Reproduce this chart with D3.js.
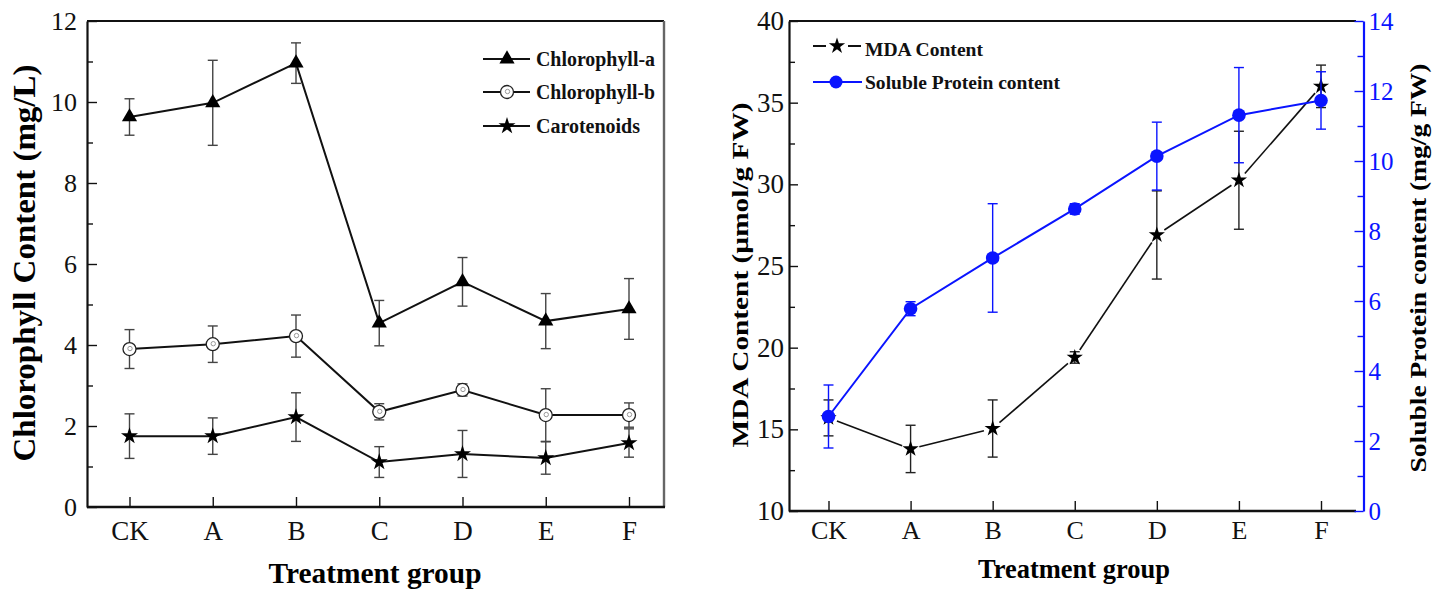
<!DOCTYPE html>
<html>
<head>
<meta charset="utf-8">
<script src="https://cdn.jsdelivr.net/npm/d3@7"></script>
<style>
  body { margin: 0; background: #fff; }
</style>
</head>
<body>
<svg id="chart" width="1442" height="594"></svg>
<script>
// data
const groups = ["CK", "A", "B", "C", "D", "E", "F"];

const chlA     = [9.63, 9.98, 10.96, 4.54, 5.56, 4.59, 4.89];
const chlAErr  = [0.45, 1.05, 0.50, 0.56, 0.60, 0.68, 0.75];
const chlB     = [3.90, 4.02, 4.22, 2.35, 2.89, 2.27, 2.27];
const chlBErr  = [0.48, 0.45, 0.52, 0.20, 0.15, 0.65, 0.30];
const carot    = [1.75, 1.75, 2.22, 1.11, 1.31, 1.21, 1.58];
const carotErr = [0.55, 0.45, 0.60, 0.38, 0.58, 0.40, 0.35];

const mda        = [15.7, 13.8, 15.05, 19.4, 26.9, 30.25, 36.0];
const mdaErr     = [1.1, 1.45, 1.75, 0.35, 2.7, 3.0, 1.3];
const protein    = [2.7, 5.78, 7.23, 8.63, 10.14, 11.31, 11.73];
const proteinErr = [0.9, 0.2, 1.55, 0.15, 0.97, 1.36, 0.82];

const leftTicks  = [0, 2, 4, 6, 8, 10, 12];
const leftMinor  = [1, 3, 5, 7, 9, 11];
const mdaTicks   = [10, 15, 20, 25, 30, 35, 40];
const mdaMinor   = [12.5, 17.5, 22.5, 27.5, 32.5, 37.5];
const protTicks  = [0, 2, 4, 6, 8, 10, 12, 14];
const protMinor  = [1, 3, 5, 7, 9, 11, 13];

const serif = "'Liberation Serif', 'Times New Roman', serif";
const BLUE = "#0a14ff";

const svg = d3.select("#chart");
svg.append("rect").attr("width", 1442).attr("height", 594).attr("fill", "#fff");

// ---------- helpers ----------
function styleAxis(g, color, size) {
  g.selectAll("path.domain").attr("stroke", color).attr("stroke-width", 2.2);
  g.selectAll(".tick line").attr("stroke", color).attr("stroke-width", 1.4);
  g.selectAll(".tick text").attr("fill", color)
    .style("font-family", serif).style("font-size", size + "px");
}

function errorBars(g, vals, errs, x, y, color, cap) {
  const eb = g.append("g");
  vals.forEach((v, i) => {
    const cx = x(i);
    eb.append("line").attr("x1", cx).attr("x2", cx)
      .attr("y1", y(v - errs[i])).attr("y2", y(v + errs[i]))
      .attr("stroke", color).attr("stroke-width", 1.4);
    [v - errs[i], v + errs[i]].forEach(e => {
      eb.append("line").attr("x1", cx - cap).attr("x2", cx + cap)
        .attr("y1", y(e)).attr("y2", y(e))
        .attr("stroke", color).attr("stroke-width", 1.4);
    });
  });
}

function hollowCircle(g, cx, cy) {
  g.append("circle").attr("cx", cx).attr("cy", cy).attr("r", 6.5)
    .attr("fill", "#fff").attr("stroke", "#222").attr("stroke-width", 1.3);
  g.append("circle").attr("cx", cx + 0.5).attr("cy", cy - 0.5).attr("r", 2.2)
    .attr("fill", "none").attr("stroke", "#999").attr("stroke-width", 1);
}

const triPath   = d3.symbol().type(d3.symbolTriangle).size(100)();
const starPath  = d3.symbol().type(d3.symbolStar).size(90)();
const starPath2 = d3.symbol().type(d3.symbolStar).size(82)();

// ================= LEFT CHART =================
const L = { x0: 87, x1: 664, y0: 21, y1: 507 };
const xL = d3.scaleLinear().domain([0, 6]).range([129.5, 629]);
const yL = d3.scaleLinear().domain([0, 12]).range([L.y1, L.y0]);

const left = svg.append("g");

// frame
left.append("line").attr("x1", L.x0).attr("x2", L.x1).attr("y1", L.y0).attr("y2", L.y0)
  .attr("stroke", "#111").attr("stroke-width", 2);
left.append("line").attr("x1", L.x1).attr("x2", L.x1).attr("y1", L.y0).attr("y2", L.y1)
  .attr("stroke", "#666").attr("stroke-width", 2.4);
left.append("line").attr("x1", L.x0).attr("x2", L.x1 + 1).attr("y1", L.y1).attr("y2", L.y1)
  .attr("stroke", "#111").attr("stroke-width", 2.4);

left.append("g").attr("transform", `translate(${L.x0},0)`)
  .call(d3.axisLeft(yL).tickValues(leftTicks).tickSize(-10).tickSizeOuter(0).tickPadding(10))
  .call(g => styleAxis(g, "#111", 26));
left.append("g").attr("transform", `translate(${L.x0},0)`)
  .call(d3.axisLeft(yL).tickValues(leftMinor).tickSize(-6).tickFormat(""))
  .call(g => g.select(".domain").remove())
  .call(g => styleAxis(g, "#111", 26));

left.append("g").attr("transform", `translate(0,${L.y1})`)
  .call(d3.axisBottom(xL).tickValues(d3.range(7)).tickFormat(i => groups[i])
    .tickSize(-10).tickSizeOuter(0).tickPadding(14))
  .call(g => g.select(".domain").remove())
  .call(g => styleAxis(g, "#111", 27));

// error bars
errorBars(left, chlA, chlAErr, xL, yL, "#444", 5);
errorBars(left, chlB, chlBErr, xL, yL, "#444", 5);
errorBars(left, carot, carotErr, xL, yL, "#444", 5);

const lineL = vals => d3.line().x((d, i) => xL(i)).y(d => yL(d))(vals);
[chlA, chlB, carot].forEach(s => {
  left.append("path").attr("d", lineL(s)).attr("fill", "none")
    .attr("stroke", "#111").attr("stroke-width", 2);
});

left.selectAll(".tri").data(chlA).enter().append("path")
  .attr("d", triPath).attr("fill", "#000")
  .attr("transform", (d, i) => `translate(${xL(i)},${yL(d)})`);
chlB.forEach((d, i) => hollowCircle(left, xL(i), yL(d)));
left.selectAll(".star").data(carot).enter().append("path")
  .attr("d", starPath).attr("fill", "#000")
  .attr("transform", (d, i) => `translate(${xL(i)},${yL(d)})`);

// legend
const legL = left.append("g");
const legRows = [
  { name: "Chlorophyll-a", y: 59, len: 119, kind: "tri" },
  { name: "Chlorophyll-b", y: 92, len: 119, kind: "circ" },
  { name: "Carotenoids",   y: 126, len: 104, kind: "star" }
];
legRows.forEach(r => {
  legL.append("line").attr("x1", 483).attr("x2", 530).attr("y1", r.y).attr("y2", r.y)
    .attr("stroke", "#111").attr("stroke-width", 2);
  if (r.kind === "tri") legL.append("path").attr("d", triPath).attr("transform", `translate(507,${r.y})`);
  if (r.kind === "circ") hollowCircle(legL, 507, r.y);
  if (r.kind === "star") legL.append("path").attr("d", starPath).attr("transform", `translate(507,${r.y})`);
  legL.append("text").attr("x", 536).attr("y", r.y + 6.5)
    .attr("textLength", r.len).attr("lengthAdjust", "spacingAndGlyphs")
    .style("font-family", serif).style("font-weight", "bold").style("font-size", "20px")
    .attr("fill", "#111").text(r.name);
});

// titles
left.append("text").attr("x", 375).attr("y", 583).attr("text-anchor", "middle")
  .attr("textLength", 213).attr("lengthAdjust", "spacingAndGlyphs")
  .style("font-family", serif).style("font-weight", "bold").style("font-size", "30px")
  .text("Treatment group");
left.append("text").attr("transform", "translate(35,263) rotate(-90)").attr("text-anchor", "middle")
  .attr("textLength", 397).attr("lengthAdjust", "spacingAndGlyphs")
  .style("font-family", serif).style("font-weight", "bold").style("font-size", "31px")
  .text("Chlorophyll Content (mg/L)");

// ================= RIGHT CHART =================
const R = { x0: 789, x1: 1356, y0: 21, y1: 511, xb: 1363.5 };
const xR = d3.scaleLinear().domain([0, 6]).range([828.5, 1321]);
const yR = d3.scaleLinear().domain([10, 40]).range([R.y1, R.y0]);
const yP = d3.scaleLinear().domain([0, 14]).range([R.y1, R.y0]);

const right = svg.append("g");

right.append("line").attr("x1", R.x0).attr("x2", R.x1).attr("y1", R.y0).attr("y2", R.y0)
  .attr("stroke", "#111").attr("stroke-width", 2);
right.append("line").attr("x1", R.x0).attr("x2", R.x1).attr("y1", R.y1).attr("y2", R.y1)
  .attr("stroke", "#111").attr("stroke-width", 2.4);

right.append("g").attr("transform", `translate(${R.x0},0)`)
  .call(d3.axisLeft(yR).tickValues(mdaTicks).tickSize(-9).tickSizeOuter(0).tickPadding(5))
  .call(g => styleAxis(g, "#111", 27));
right.append("g").attr("transform", `translate(${R.x0},0)`)
  .call(d3.axisLeft(yR).tickValues(mdaMinor).tickSize(-6).tickFormat(""))
  .call(g => g.select(".domain").remove())
  .call(g => styleAxis(g, "#111", 27));

right.append("g").attr("transform", `translate(${R.xb},0)`)
  .call(d3.axisRight(yP).tickValues(protTicks).tickSize(-9).tickSizeOuter(0).tickPadding(5))
  .call(g => styleAxis(g, BLUE, 25));
right.append("g").attr("transform", `translate(${R.xb},0)`)
  .call(d3.axisRight(yP).tickValues(protMinor).tickSize(-6).tickFormat(""))
  .call(g => g.select(".domain").remove())
  .call(g => styleAxis(g, BLUE, 25));

right.append("g").attr("transform", `translate(0,${R.y1})`)
  .call(d3.axisBottom(xR).tickValues(d3.range(7)).tickFormat(i => groups[i])
    .tickSize(-10).tickSizeOuter(0).tickPadding(10))
  .call(g => g.select(".domain").remove())
  .call(g => styleAxis(g, "#111", 26));

// MDA series: line segments stop short of the stars
errorBars(right, mda, mdaErr, xR, yR, "#222", 5);
const gap = 9;
mda.forEach((d, i) => {
  if (i === mda.length - 1) return;
  const ax = xR(i), ay = yR(d), bx = xR(i + 1), by = yR(mda[i + 1]);
  const len = Math.hypot(bx - ax, by - ay), ux = (bx - ax) / len, uy = (by - ay) / len;
  right.append("line")
    .attr("x1", ax + ux * gap).attr("y1", ay + uy * gap)
    .attr("x2", bx - ux * gap).attr("y2", by - uy * gap)
    .attr("stroke", "#111").attr("stroke-width", 1.6);
});
right.selectAll(".mstar").data(mda).enter().append("path")
  .attr("d", starPath2).attr("fill", "#000")
  .attr("transform", (d, i) => `translate(${xR(i)},${yR(d)})`);

// protein series
errorBars(right, protein, proteinErr, xR, yP, BLUE, 5);
right.append("path")
  .attr("d", d3.line().x((d, i) => xR(i)).y(d => yP(d))(protein))
  .attr("fill", "none").attr("stroke", BLUE).attr("stroke-width", 2);
right.selectAll(".pdot").data(protein).enter().append("circle")
  .attr("cx", (d, i) => xR(i)).attr("cy", d => yP(d)).attr("r", 6.8).attr("fill", BLUE);

// legend
const legR = right.append("g");
legR.append("line").attr("x1", 813).attr("x2", 826).attr("y1", 46).attr("y2", 46)
  .attr("stroke", "#111").attr("stroke-width", 2);
legR.append("line").attr("x1", 848).attr("x2", 861).attr("y1", 46).attr("y2", 46)
  .attr("stroke", "#111").attr("stroke-width", 2);
legR.append("path").attr("d", starPath2).attr("transform", "translate(837,46)");
legR.append("line").attr("x1", 813).attr("x2", 862).attr("y1", 82).attr("y2", 82)
  .attr("stroke", BLUE).attr("stroke-width", 2);
legR.append("circle").attr("cx", 836).attr("cy", 82).attr("r", 6.5).attr("fill", BLUE);
[["MDA Content", 56, 118], ["Soluble Protein content", 89, 195]].forEach(([t, y, len]) => {
  legR.append("text").attr("x", 865).attr("y", y)
    .attr("textLength", len).attr("lengthAdjust", "spacingAndGlyphs")
    .style("font-family", serif).style("font-weight", "bold").style("font-size", "19px")
    .attr("fill", "#111").text(t);
});

// titles
right.append("text").attr("x", 1074).attr("y", 578).attr("text-anchor", "middle")
  .attr("textLength", 192).attr("lengthAdjust", "spacingAndGlyphs")
  .style("font-family", serif).style("font-weight", "bold").style("font-size", "27px")
  .text("Treatment group");
right.append("text").attr("transform", "translate(748,275) rotate(-90)").attr("text-anchor", "middle")
  .attr("textLength", 345).attr("lengthAdjust", "spacingAndGlyphs")
  .style("font-family", serif).style("font-weight", "bold").style("font-size", "24px")
  .text("MDA Content (\u00b5mol/g FW)");
right.append("text").attr("transform", "translate(1426,268) rotate(-90)").attr("text-anchor", "middle")
  .attr("textLength", 409).attr("lengthAdjust", "spacingAndGlyphs")
  .style("font-family", serif).style("font-weight", "bold").style("font-size", "24px")
  .text("Soluble Protein content (mg/g FW)");
</script>
</body>
</html>
